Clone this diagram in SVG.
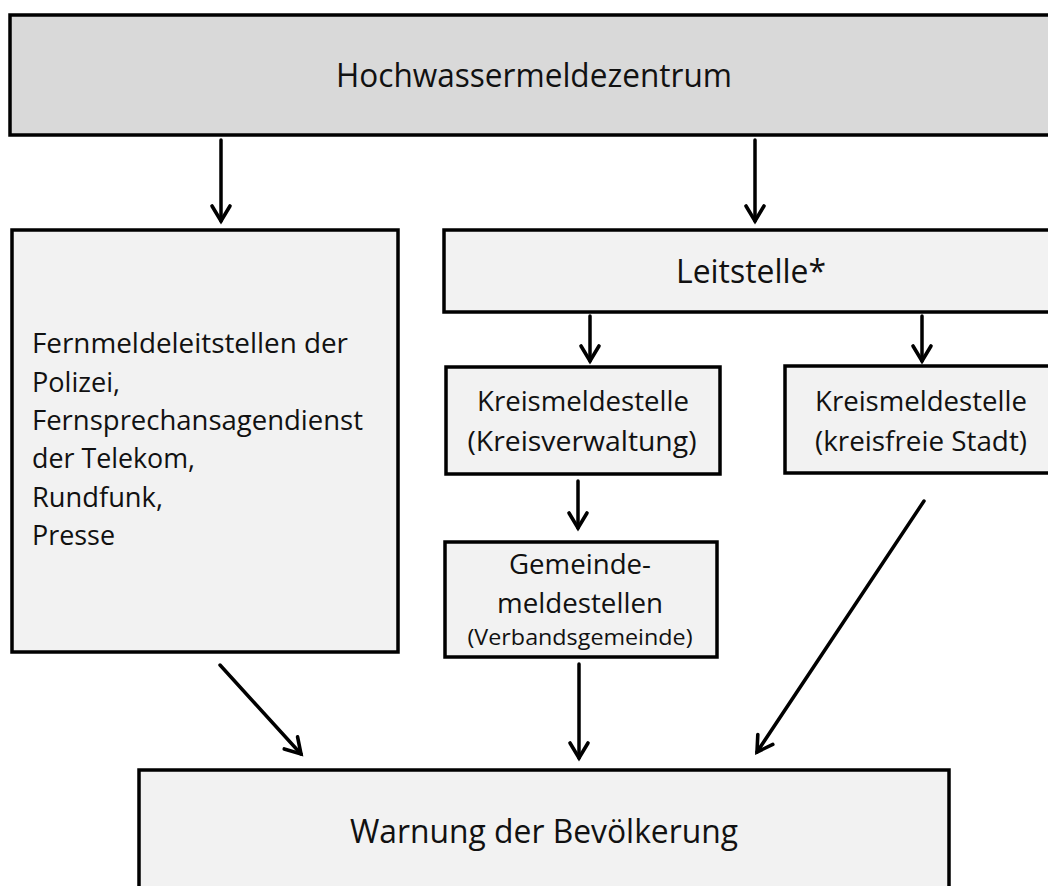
<svg xmlns="http://www.w3.org/2000/svg" width="1048" height="886" viewBox="0 0 1048 886">
<style>
.box{stroke:#000;stroke-width:3.5}
.dark{fill:#d9d9d9}
.light{fill:#f2f2f2}
text{font-family:"Open Sans","Noto Sans","Liberation Sans",sans-serif;fill:#111}
.c{text-anchor:middle}
.big{font-size:33px}
.mid{font-size:27px}
.sm{font-size:21px}
.conn line{stroke:#000;stroke-width:3.5;stroke-linecap:round;marker-end:url(#ah)}
</style>
<defs>
<marker id="ah" markerUnits="userSpaceOnUse" markerWidth="24" markerHeight="24" viewBox="0 0 24 24" refX="20" refY="12" orient="auto" overflow="visible">
<path d="M5,3 L20,12 L5,21" fill="none" stroke="#000" stroke-width="3.6" stroke-linecap="round" stroke-linejoin="miter"/>
</marker>
</defs>
<rect width="1048" height="886" fill="#fff"/>
<g id="hochwassermeldezentrum">
<rect class="box dark" x="10" y="15" width="1050" height="120"/>
<text class="c big" x="534" y="87" textLength="396" lengthAdjust="spacingAndGlyphs">Hochwassermeldezentrum</text>
</g>
<g id="fernmelde">
<rect class="box light" x="12" y="230" width="386" height="422"/>
<text class="mid" x="32" y="353" textLength="316" lengthAdjust="spacingAndGlyphs">Fernmeldeleitstellen der</text>
<text class="mid" x="32" y="392" textLength="88" lengthAdjust="spacingAndGlyphs">Polizei,</text>
<text class="mid" x="32" y="430" textLength="331" lengthAdjust="spacingAndGlyphs">Fernsprechansagendienst</text>
<text class="mid" x="32" y="468" textLength="163" lengthAdjust="spacingAndGlyphs">der Telekom,</text>
<text class="mid" x="32" y="507" textLength="131" lengthAdjust="spacingAndGlyphs">Rundfunk,</text>
<text class="mid" x="32" y="545" textLength="83" lengthAdjust="spacingAndGlyphs">Presse</text>
</g>
<g id="leitstelle">
<rect class="box light" x="444" y="230" width="620" height="82"/>
<text class="c big" x="751" y="283" textLength="150" lengthAdjust="spacingAndGlyphs">Leitstelle*</text>
</g>
<g id="kreis1">
<rect class="box light" x="446" y="367" width="274" height="107"/>
<text class="c mid" x="583" y="411" textLength="212" lengthAdjust="spacingAndGlyphs">Kreismeldestelle</text>
<text class="c mid" x="582" y="451" textLength="229" lengthAdjust="spacingAndGlyphs">(Kreisverwaltung)</text>
</g>
<g id="kreis2">
<rect class="box light" x="785" y="366" width="280" height="107"/>
<text class="c mid" x="921" y="411" textLength="212" lengthAdjust="spacingAndGlyphs">Kreismeldestelle</text>
<text class="c mid" x="921" y="451" textLength="212" lengthAdjust="spacingAndGlyphs">(kreisfreie Stadt)</text>
</g>
<g id="gemeinde">
<rect class="box light" x="445" y="542" width="272" height="115"/>
<text class="c mid" x="580" y="574" textLength="142" lengthAdjust="spacingAndGlyphs">Gemeinde-</text>
<text class="c mid" x="580" y="613" textLength="166" lengthAdjust="spacingAndGlyphs">meldestellen</text>
<text class="c sm" x="580" y="645" textLength="225" lengthAdjust="spacingAndGlyphs">(Verbandsgemeinde)</text>
</g>
<g id="warnung">
<rect class="box light" x="139" y="770" width="810" height="130"/>
<text class="c big" x="544" y="843" textLength="388" lengthAdjust="spacingAndGlyphs">Warnung der Bevölkerung</text>
</g>
<g id="connectors" class="conn">
<line x1="221" y1="140" x2="221" y2="221"/>
<line x1="755" y1="140" x2="755" y2="221"/>
<line x1="590" y1="316" x2="590" y2="361"/>
<line x1="922" y1="316" x2="922" y2="361"/>
<line x1="578" y1="481" x2="578" y2="528"/>
<line x1="579" y1="664" x2="579" y2="758"/>
<line x1="220" y1="665" x2="301" y2="754"/>
<line x1="924" y1="501" x2="757" y2="752"/>
</g>
</svg>
